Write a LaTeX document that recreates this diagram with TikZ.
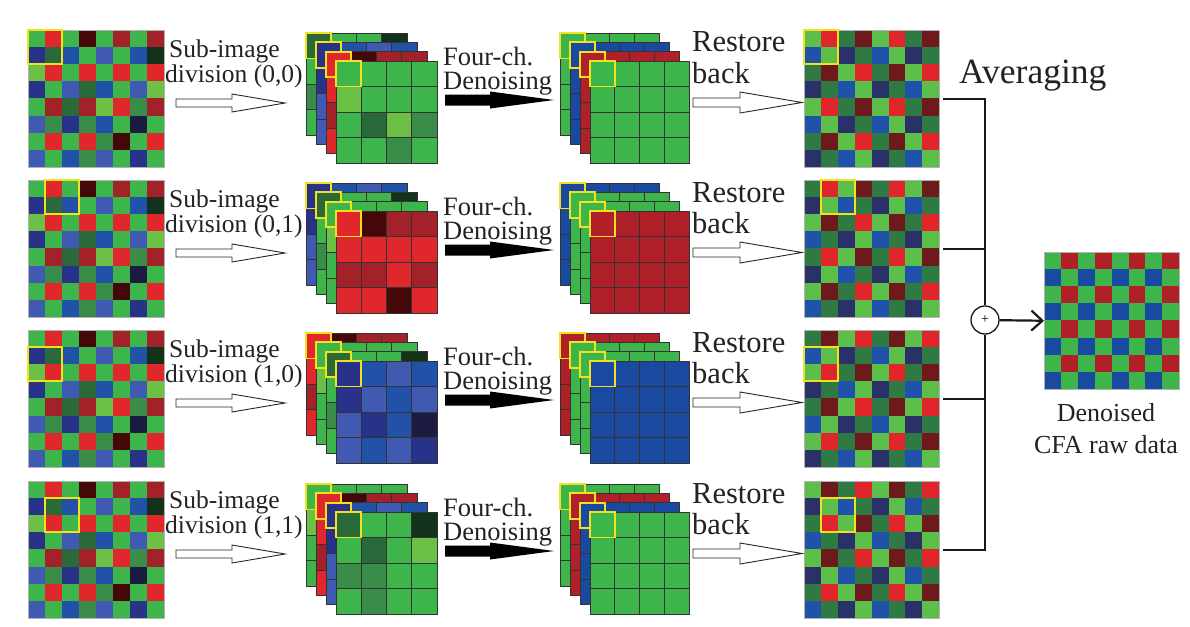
\documentclass[tikz,border=0pt]{standalone}
\usepackage{fontspec}
\setmainfont{Liberation Serif}
\usetikzlibrary{arrows.meta}
% noisy mosaic colours
\definecolor{cG}{HTML}{3DB54A}
\definecolor{cGl}{HTML}{6CC045}
\definecolor{cGm}{HTML}{3A8D48}
\definecolor{cGd}{HTML}{2A6A3A}
\definecolor{cGdd}{HTML}{12321C}
\definecolor{cR}{HTML}{E0282C}
\definecolor{cRd}{HTML}{A32229}
\definecolor{cRdd}{HTML}{450808}
\definecolor{cB}{HTML}{2152A8}
\definecolor{cBl}{HTML}{405AB2}
\definecolor{cBn}{HTML}{283288}
\definecolor{cBnn}{HTML}{1C1C42}
% restored mosaic colours (bright / dark per Bayer position)
\definecolor{rb0}{HTML}{5CBF4A}
\definecolor{rb1}{HTML}{E0262A}
\definecolor{rb2}{HTML}{2152AA}
\definecolor{rb3}{HTML}{5CBF4A}
\definecolor{rk0}{HTML}{2E7A42}
\definecolor{rk1}{HTML}{6E1A1C}
\definecolor{rk2}{HTML}{2A3068}
\definecolor{rk3}{HTML}{2E7A42}
% denoised channels / final
\definecolor{dG}{HTML}{3DB54A}
\definecolor{dR}{HTML}{B02028}
\definecolor{dB}{HTML}{1A4AA0}
\definecolor{yel}{HTML}{F2E21E}
\definecolor{txt}{HTML}{222222}
\expandafter\def\csname dcol00\endcsname{dG}
\expandafter\def\csname dcol11\endcsname{dG}
\expandafter\def\csname dcol01\endcsname{dR}
\expandafter\def\csname dcol10\endcsname{dB}
\expandafter\def\csname fcol0\endcsname{dG}
\expandafter\def\csname fcol1\endcsname{dR}
\expandafter\def\csname fcol2\endcsname{dB}
\expandafter\def\csname fcol3\endcsname{dG}
% the noisy CFA mosaic
\foreach \rw [count=\mI from 0] in {%
 {cG,cR,cG,cRdd,cG,cRd,cG,cRd},
 {cBn,cGd,cB,cG,cBl,cG,cB,cGdd},
 {cGl,cR,cG,cR,cG,cR,cG,cR},
 {cBn,cG,cBl,cGd,cB,cG,cBl,cGl},
 {cG,cRd,cGd,cRd,cGl,cR,cGm,cRd},
 {cBl,cGm,cBn,cGm,cB,cG,cBnn,cG},
 {cG,cR,cG,cR,cGm,cRdd,cG,cR},
 {cBl,cG,cB,cGm,cBl,cG,cBn,cG}}{%
 \foreach \cl [count=\mJ from 0] in \rw {\expandafter\xdef\csname mos\mI-\mJ\endcsname{\cl}}}
\newcommand\splitab[2]{\def\la{#1}\def\lb{#2}}
\newcommand\fsub{\fontsize{25.5}{30}\selectfont}
\newcommand\ffour{\fontsize{26.5}{30}\selectfont}
\newcommand\frest{\fontsize{30.5}{34}\selectfont}
\newcommand\favg{\fontsize{35.5}{40}\selectfont}
\newcommand\fden{\fontsize{26}{30}\selectfont}
\tikzset{
 lbl/.style={inner sep=0pt,text=txt},
 cellline/.style={draw=black!80,line width=0.6pt},
 ybox/.style={draw=yel,line width=1.8pt},
 hollow/.style={draw=black!85,line width=0.9pt,fill=white},
 bus/.style={draw=black!90,line width=2.2pt},
 frame/.style={draw=black!30,line width=0.5pt}
}
\newcommand\noisylayer[4]{% x y a b
 \foreach \p in {0,...,3}{\foreach \q in {0,...,3}{%
  \pgfmathtruncatemacro\mI{2*\p+#3}%
  \pgfmathtruncatemacro\mJ{2*\q+#4}%
  \edef\mycol{\csname mos\mI-\mJ\endcsname}%
  \path[fill=\mycol,cellline] ({#1+\q*25.25},{#2+\p*25.5}) rectangle ++(25.25,25.5);
 }}%
 \path[ybox] (#1,#2) rectangle ++(25.25,25.5);
}
\newcommand\cleanlayer[4]{% x y a b
 \edef\mycol{\csname dcol#3#4\endcsname}%
 \path[fill=\mycol] (#1,#2) rectangle ++(99,102);
 \foreach \k in {1,2,3}{%
  \draw[black!80,line width=0.6pt] ({#1+\k*24.75},#2) -- ++(0,102);
  \draw[black!80,line width=0.6pt] (#1,{#2+\k*25.5}) -- ++(99,0);}
 \path[cellline] (#1,#2) rectangle ++(99,102);
 \path[ybox] (#1,#2) rectangle ++(24.75,25.5);
}
\newcommand\noisymosaic[4]{% x y a b
 \foreach \mI in {0,...,7}{\foreach \mJ in {0,...,7}{%
  \edef\mycol{\csname mos\mI-\mJ\endcsname}%
  \path[fill=\mycol] ({#1+\mJ*17},{#2+\mI*17.1}) rectangle ++(17.05,17.15);}}
 \path[frame] (#1,#2) rectangle ++(136,136.8);
 \path[ybox,line width=2pt] ({#1+#4*17},{#2+#3*17.1}) rectangle ++(34,34.2);
}
\newcommand\restmosaic[4]{% x y a b
 \foreach \mI in {0,...,7}{\foreach \mJ in {0,...,7}{%
  \pgfmathtruncatemacro\ty{2*mod(\mI,2)+mod(\mJ,2)}%
  \pgfmathtruncatemacro\pty{mod(floor((\mI-#3)/2)+floor((\mJ-#4)/2)+100,2)}%
  \edef\mycol{\ifnum\pty=0 rb\ty\else rk\ty\fi}%
  \path[fill=\mycol] ({#1+\mJ*16.9},{#2+\mI*17.1}) rectangle ++(16.95,17.15);}}
 \path[frame] (#1,#2) rectangle ++(135.2,136.8);
 \path[ybox,line width=2pt] ({#1+#4*16.9},{#2+#3*17.1}) rectangle ++(33.8,34.2);
}
\newcommand\rowblock[5]{% yoff, four layer codes back to front
 \splitab#5\let\fa\la\let\fb\lb
 \noisymosaic{28}{30+#1}{\fa}{\fb}
 \node[inner sep=0pt,minimum width=136pt,minimum height=137pt,anchor=north west] (lm#1) at (28,30+#1) {};
 \splitab#2\noisylayer{306}{33+#1}{\la}{\lb}
 \splitab#3\noisylayer{316}{42.33+#1}{\la}{\lb}
 \splitab#4\noisylayer{326}{51.67+#1}{\la}{\lb}
 \splitab#5\noisylayer{336}{61+#1}{\la}{\lb}
 \splitab#2\cleanlayer{560}{33+#1}{\la}{\lb}
 \splitab#3\cleanlayer{570}{42.33+#1}{\la}{\lb}
 \splitab#4\cleanlayer{580}{51.67+#1}{\la}{\lb}
 \splitab#5\cleanlayer{590}{61+#1}{\la}{\lb}
 \restmosaic{804}{30+#1}{\fa}{\fb}
 \node[inner sep=0pt,minimum width=135pt,minimum height=137pt,anchor=north west] (rm#1) at (804,30+#1) {};
 % arrows
 \path[hollow] (176,99+#1) -- (232,99+#1) -- (232,94+#1) -- (285,103+#1) -- (232,112+#1) -- (232,107+#1) -- (176,107+#1) -- cycle;
 \fill[black] (445,94.5+#1) -- (490,94.5+#1) -- (490,91.5+#1) -- (554,100+#1) -- (490,108.5+#1) -- (490,105.5+#1) -- (445,105.5+#1) -- cycle;
 \path[hollow] (693,98+#1) -- (740,98+#1) -- (740,92+#1) -- (802,102.5+#1) -- (740,113+#1) -- (740,107+#1) -- (693,107+#1) -- cycle;
 % labels
 \node[lbl,anchor=base west,font=\fsub] (sub#1) at (169,57+#1) {Sub-image};
 \node[lbl,anchor=base west,font=\fsub] (div#1) at (165,82+#1) {division (\fa,\fb)};
 \node[lbl,anchor=base west,font=\ffour] (four#1) at (443,65+#1) {Four-ch.};
 \node[lbl,anchor=base west,font=\ffour] (dns#1) at (443,89+#1) {Denoising};
 \node[lbl,anchor=base west,font=\frest] (rest#1) at (692,52+#1) {Restore};
 \node[lbl,anchor=base west,font=\frest] (back#1) at (692,83+#1) {back};
}
\begin{document}
\begin{tikzpicture}[x=1pt,y=-1pt]
\useasboundingbox (0,0) rectangle (1190,626);
\fill[white] (0,0) rectangle (1190,626);
\rowblock{0}{11}{10}{01}{00}
\rowblock{150}{10}{11}{00}{01}
\rowblock{300}{01}{00}{11}{10}
\rowblock{451}{00}{01}{10}{11}
% averaging
\node[lbl,anchor=base west,font=\favg] (avg) at (959,83) {Averaging};
\node[circle,draw=black!90,fill=white,line width=1.3pt,minimum size=28pt,inner sep=0pt,font=\fontsize{14}{14}\selectfont] (sum) at (985,320) {+};
\draw[bus] ([xshift=4pt]rm0.east) -| (sum.north);
\draw[bus] ([xshift=4pt]rm451.east) -| (sum.south);
\draw[bus] ([xshift=4pt]rm150.east) -- (rm150.east -| sum.center);
\draw[bus] ([xshift=4pt]rm300.east) -- (rm300.east -| sum.center);
% final mosaic
\foreach \mI in {0,...,7}{\foreach \mJ in {0,...,7}{%
 \pgfmathtruncatemacro\ty{2*mod(\mI,2)+mod(\mJ,2)}%
 \edef\mycol{\csname fcol\ty\endcsname}%
 \path[fill=\mycol] ({1044+\mJ*16.9},{252+\mI*17.1}) rectangle ++(16.95,17.15);}}
\node[inner sep=0pt,minimum width=135pt,minimum height=137pt,anchor=north west,frame] (fin) at (1044,252) {};
\draw[bus,-{Straight Barb[length=11pt,width=20pt]}] (sum) -- (fin.west);
\node[lbl,anchor=base,font=\fden] (dlab) at (1106,421) {Denoised};
\node[lbl,anchor=base,font=\fden] (clab) at (1106,453) {CFA raw data};
\end{tikzpicture}
\end{document}
